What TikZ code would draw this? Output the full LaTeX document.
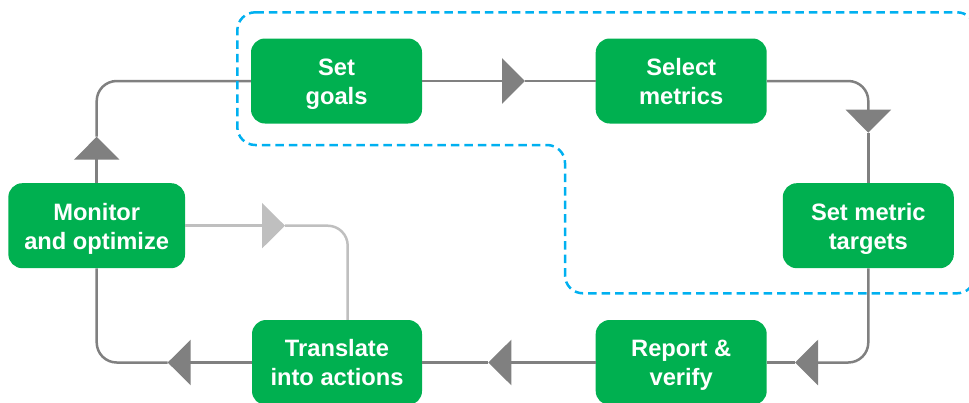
\documentclass[tikz,border=0pt]{standalone}
\usepackage{fontspec}
\setmainfont{Liberation Sans}
\usetikzlibrary{arrows.meta}
\definecolor{stepgreen}{RGB}{0,176,80}
\definecolor{linegray}{RGB}{128,128,128}
\definecolor{lightgray}{RGB}{191,191,191}
\definecolor{groupblue}{RGB}{0,176,240}
% struts that fix the vertical placement of the two-line labels
\newcommand\stepTop{\rule{0pt}{24pt}}
\newcommand\stepBot{\rule[-6.4pt]{0pt}{6.4pt}}
\newcommand\steptext[2]{\stepTop#1\\#2\stepBot}
\begin{document}
\begin{tikzpicture}[x=1pt,y=-1pt,
  stepbox/.style={fill=stepgreen, rounded corners=14pt, minimum height=85pt,
    inner sep=2pt, align=center, text=white,
    font=\fontsize{23.7pt}{29pt}\selectfont\bfseries},
  conn/.style={draw=linegray, line width=2.5pt, rounded corners=20pt},
  lightconn/.style={conn, draw=lightgray},
  bigtip/.style={-{Triangle[length=23pt,width=45pt]}},
  grouping/.style={draw=groupblue, line width=2.5pt, dash pattern=on 8.5pt off 5pt,
    rounded corners=18pt}]
\useasboundingbox (0,0) rectangle (969,402);

% process steps
\node[stepbox, minimum width=171pt]   (goals)   at (336.5,81)    {\steptext{Set}{goals}};
\node[stepbox, minimum width=171pt]   (select)  at (681.2,81)    {\steptext{Select}{metrics}};
\node[stepbox, minimum width=171pt]   (targets) at (868.3,225.7) {\steptext{Set metric}{targets}};
\node[stepbox, minimum width=171pt]   (report)  at (681.2,362.5) {\steptext{Report \&}{verify}};
\node[stepbox, minimum width=170pt]   (actions) at (337,362.5)   {\steptext{Translate}{into actions}};
\node[stepbox, minimum width=176.7pt] (monitor) at (96.7,225.7)  {\steptext{Monitor}{and optimize}};

% arrow tip positions along the loop
\coordinate (t1) at (525,81);
\coordinate (t2) at (868.3,132.7);
\coordinate (t3) at (795,362.5);
\coordinate (t4) at (488.3,362.5);
\coordinate (t5) at (167.7,362.5);
\coordinate (t6) at (96.7,136.7);
\coordinate (t7) at (285,225.7);
\coordinate (fb) at ([xshift=10.7pt]actions.north);

% main cycle
\draw[conn, bigtip] (goals.east) -- (t1);
\draw[conn] (t1) -- (select.west);
\draw[conn, bigtip] (select.east) -| (t2);
\draw[conn] (t2) -- (targets.north);
\draw[conn, bigtip] (targets.south) |- (t3);
\draw[conn] (t3) -- (report.east);
\draw[conn, bigtip] (report.west) -- (t4);
\draw[conn] (t4) -- (actions.east);
\draw[conn, bigtip] (actions.west) -- (t5);
\draw[conn] (t5) -| (monitor.south);
\draw[conn, bigtip] (monitor.north) -- (t6);
\draw[conn] (t6) |- (goals.west);

% feedback from monitoring back to actions
\draw[lightconn, bigtip] (monitor.east) -- (t7);
\draw[lightconn] (t7) -| (fb);

% dashed grouping around the planning steps
\draw[grouping] (237.3,12.3) -- (975,12.3) -- (975,293.3) -- (565,293.3)
  -- (565,145) -- (237.3,145) -- cycle;
\end{tikzpicture}
\end{document}
